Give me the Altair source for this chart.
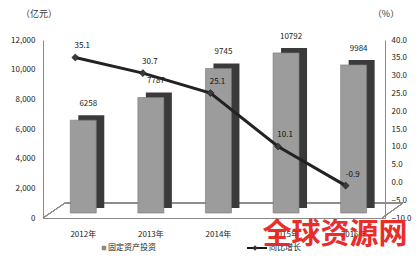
import altair as alt
import pandas as pd

years = ["2012年", "2013年", "2014年", "2015年", "2016年"]
investment = [6258, 7787, 9745, 10792, 9984]
growth = [35.1, 30.7, 25.1, 10.1, -0.9]
bar_labels = ["6258", "7787", "9745", "10792", "9984"]
growth_labels = ["35.1", "30.7", "25.1", "10.1", "-0.9"]
left_ticks = [0, 2000, 4000, 6000, 8000, 10000, 12000]
right_ticks = [-10, -5, 0, 5, 10, 15, 20, 25, 30, 35, 40]

df = pd.DataFrame({"year": years, "inv": investment, "g": growth,
                   "bl": bar_labels, "gl": growth_labels})

FONT = "Noto Sans CJK SC"
W, H = 342, 178
AX = "#8a8a8a"

xaxis = alt.Axis(title=None, labelAngle=0, ticks=False, domainColor=AX,
                 labelFontSize=8, labelFont=FONT, labelColor="#222222", labelPadding=12)
laxis = alt.Axis(title=None, values=left_ticks, labelExpr="format(datum.value, ',')",
                 grid=False, ticks=False, domainColor=AX, labelOverlap=False,
                 labelFontSize=8, labelFont=FONT, labelColor="#222222", labelPadding=8)
raxis = alt.Axis(title=None, orient="right", values=right_ticks,
                 labelExpr="format(datum.value, '.1f')", grid=False, ticks=False,
                 domainColor=AX, labelOverlap=False,
                 labelFontSize=8, labelFont=FONT, labelColor="#222222", labelPadding=6)
xs = alt.Scale(paddingInner=0.6, paddingOuter=0.33, align=0.6)
yl = alt.Scale(domain=[0, 12000])
yr = alt.Scale(domain=[-10, 40])

X = alt.X("year:N", sort=years, scale=xs, axis=xaxis)
YL = alt.Y("inv:Q", scale=yl, axis=laxis)
YR = alt.Y("g:Q", scale=yr, axis=raxis)

base = alt.Chart(df)

# 3D floor (back edge at zero level, and left/right bevels)
floor_back = base.mark_rule(color=AX, strokeWidth=1, yOffset=-15).encode(
    y=alt.Y("zero:Q", scale=yl, axis=laxis), x=alt.value(22), x2=alt.value(360)
).transform_calculate(zero="0")
floor_left = base.mark_rule(color=AX, strokeWidth=1).encode(
    x=alt.value(0), y=alt.value(H), x2=alt.value(22), y2=alt.value(H - 15))
floor_right = base.mark_rule(color=AX, strokeWidth=1).encode(
    x=alt.value(339), y=alt.value(H), x2=alt.value(360), y2=alt.value(H - 15))

side = base.mark_bar(size=26, color="#3a3a3a", xOffset=8, yOffset=-10).encode(x=X, y=YL)
front = base.mark_bar(size=26, color="#9c9c9c", stroke="#777777", strokeWidth=0.6, yOffset=-5).encode(x=X, y=YL)
blabel = base.mark_text(fontSize=8, font=FONT, color="#222222", baseline="bottom", dy=-17, dx=5).encode(
    x=X, y=YL, text="bl:N")
bars = alt.layer(floor_back, floor_left, floor_right, side, front, blabel)

line = base.mark_line(color="#222222", strokeWidth=3, xOffset=-8).encode(x=X, y=YR)
pts = base.mark_point(shape="diamond", filled=True, size=50, color="#3a3a3a", opacity=1,
                      stroke="#111111", strokeWidth=0.5, xOffset=-8).encode(x=X, y=YR)
glabel = base.mark_text(fontSize=8, font=FONT, color="#111111", dx=-1, dy=-11).encode(x=X, y=YR, text="gl:N")
lines = alt.layer(line, pts, glabel)

# annotations: axis units, legend, watermark
ann = pd.DataFrame({"t": [0]})
unit_l = alt.Chart(ann).mark_text(fontSize=9, font=FONT, color="#333333").encode(
    x=alt.value(-4), y=alt.value(-26), text=alt.value("（亿元）"))
unit_r = alt.Chart(ann).mark_text(fontSize=9, font=FONT, color="#333333").encode(
    x=alt.value(343), y=alt.value(-26), text=alt.value("（%）"))
leg_sq = alt.Chart(ann).mark_square(size=20, color="#8a8a8a", opacity=1).encode(
    x=alt.value(61), y=alt.value(208))
leg_t1 = alt.Chart(ann).mark_text(fontSize=8, font=FONT, color="#222222", align="left").encode(
    x=alt.value(65), y=alt.value(208), text=alt.value("固定资产投资"))
leg_ln = alt.Chart(ann).mark_rule(color="#1a1a1a", strokeWidth=2).encode(
    x=alt.value(204), x2=alt.value(224), y=alt.value(208))
leg_pt = alt.Chart(ann).mark_point(shape="diamond", filled=True, size=30, color="#333333", opacity=1).encode(
    x=alt.value(212), y=alt.value(208))
leg_t2 = alt.Chart(ann).mark_text(fontSize=8, font=FONT, color="#222222", align="left").encode(
    x=alt.value(226), y=alt.value(208), text=alt.value("同比增长"))
wm = alt.Chart(ann).mark_text(fontSize=29, font=FONT, fontWeight="bold", color="#e8231f",
                              align="center", baseline="middle", opacity=0.95).encode(
    x=alt.value(292), y=alt.value(195), text=alt.value("全球资源网"))

chart = alt.layer(bars, lines, unit_l, unit_r,
                  leg_sq, leg_t1, leg_ln, leg_pt, leg_t2, wm).resolve_scale(
    y="independent").properties(
    width=W, height=H,
    autosize=alt.AutoSizeParams(type="none"),
    padding={"left": 43, "top": 40, "right": 33, "bottom": 42},
    background="white",
).configure_view(stroke=None)

chart.save("out.html", embed_options={"renderer": "svg", "actions": False})
